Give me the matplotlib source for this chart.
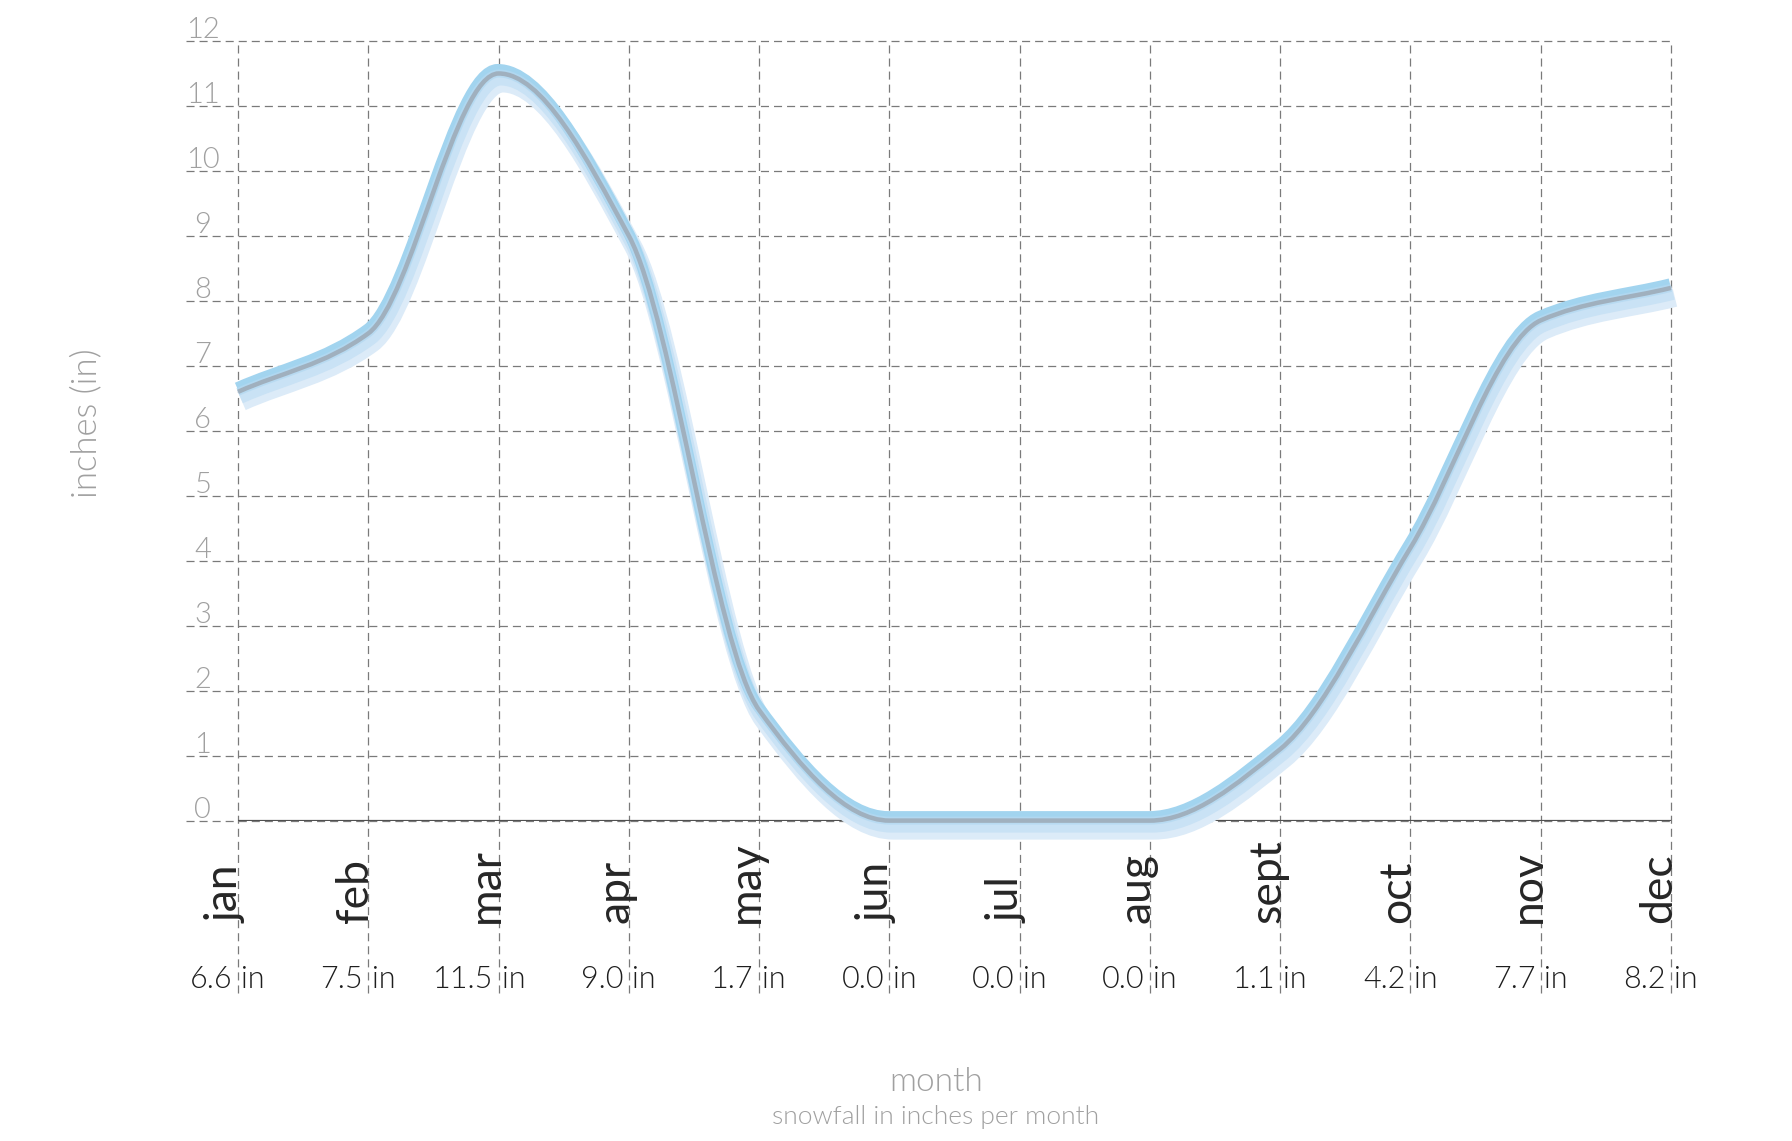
import numpy as np
import matplotlib
matplotlib.use('Agg')
import matplotlib.pyplot as plt
from matplotlib.path import Path
from matplotlib.patches import PathPatch
import matplotlib.transforms as mtransforms

months = ['jan', 'feb', 'mar', 'apr', 'may', 'jun', 'jul', 'aug', 'sept', 'oct', 'nov', 'dec']
snowfall = [6.6, 7.5, 11.5, 9.0, 1.7, 0.0, 0.0, 0.0, 1.1, 4.2, 7.7, 8.2]
value_labels = ['6.6', '7.5', '11.5', '9.0', '1.7', '0.0', '0.0', '0.0', '1.1', '4.2', '7.7', '8.2']
y_ticks = list(range(0, 13))

plt.rcParams['lines.scale_dashes'] = False
plt.rcParams['font.family'] = ['Lato', 'DejaVu Sans']

W, H = 1792, 1141
fig = plt.figure(figsize=(W / 100, H / 100), dpi=100)
ax = fig.add_axes([186 / W, (H - 820.6) / H, (1671 - 186) / W, (820.6 - 41) / H])
ax.set_xlim(-0.4, 11)
ax.set_ylim(0, 12)
ax.axis('off')

x = np.arange(len(snowfall), dtype=float)
y = np.array(snowfall, dtype=float)

# monotone cubic tangents -> bezier path through the data points
d = np.diff(y) / np.diff(x)
m = np.zeros_like(y)
m[0], m[-1] = d[0], d[-1]
for i in range(1, len(y) - 1):
    if d[i - 1] * d[i] <= 0:
        m[i] = 0.0
    else:
        m[i] = 2.0 / (1.0 / d[i - 1] + 1.0 / d[i])
verts = [(x[0], y[0])]
codes = [Path.MOVETO]
for i in range(len(x) - 1):
    h = x[i + 1] - x[i]
    verts += [(x[i] + h / 3, y[i] + m[i] * h / 3),
              (x[i + 1] - h / 3, y[i + 1] - m[i + 1] * h / 3),
              (x[i + 1], y[i + 1])]
    codes += [Path.CURVE4] * 3
path = Path(verts, codes)

PX = 72 / 100  # points per pixel

def stroke(dx_px, dy_px, lw_px, color, z, alpha=1.0):
    tr = ax.transData + mtransforms.Affine2D().translate(dx_px, dy_px)
    ax.add_patch(PathPatch(path, fill=False, edgecolor=color, lw=lw_px * PX,
                           transform=tr, zorder=z, clip_on=False,
                           capstyle='butt', joinstyle='round', alpha=alpha))

# grid
dash = (0, (5.8, 3.6))
for v in y_ticks:
    ax.plot([-0.4, 11], [v, v], color='#7a7a7a', lw=0.9, linestyle=dash,
            zorder=1, clip_on=False)
    ax.text(-0.27, v + 3 / 65, str(v), ha='center', va='baseline',
            fontsize=21, color='#a0a0a0', fontweight=300, zorder=3)
for i in x:
    ax.plot([i, i], [-2.65, 12], color='#7a7a7a', lw=0.9, linestyle=dash,
            zorder=1, clip_on=False)
ax.plot([0, 11], [0, 0], color='#505050', lw=1.6, zorder=2, solid_capstyle='butt')

# glow band + core line
stroke(4, -10, 18, '#dcebf8', 4)
stroke(2, -5, 14, '#c9e2f5', 5)
stroke(-1, 4, 11, '#a2d4ef', 6)
stroke(0, 0, 8, '#b4d9f1', 7, 0.8)
stroke(0, 0, 4.5, '#a0b0be', 8)

# month labels and value labels
for i, (mo, lab) in enumerate(zip(months, value_labels)):
    ax.text(i, -1.58, mo, rotation=90, rotation_mode='anchor', ha='left',
            va='baseline', fontsize=32, color='#262626', fontweight=400, clip_on=False)
    ax.text(i - 0.04, -2.575, lab, ha='right', va='baseline', fontsize=22,
            color='#1e1e1e', fontweight=300, clip_on=False)
    ax.text(i + 0.025, -2.575, 'in', ha='left', va='baseline', fontsize=22,
            color='#1e1e1e', fontweight=300, clip_on=False)

fig.text(86 / W, 1 - 423 / H, 'inches (in)', rotation=90, ha='center', va='center',
         fontsize=25, color='#a0a0a0', fontweight=300)
fig.text(936 / W, 1 - 1082 / H, 'month', ha='center', va='center',
         fontsize=24, color='#a0a0a0', fontweight=300)
fig.text(936 / W, 1 - 1117 / H, 'snowfall in inches per month', ha='center', va='center',
         fontsize=19, color='#a0a0a0', fontweight=300)

fig.savefig('out.png', dpi=100)
